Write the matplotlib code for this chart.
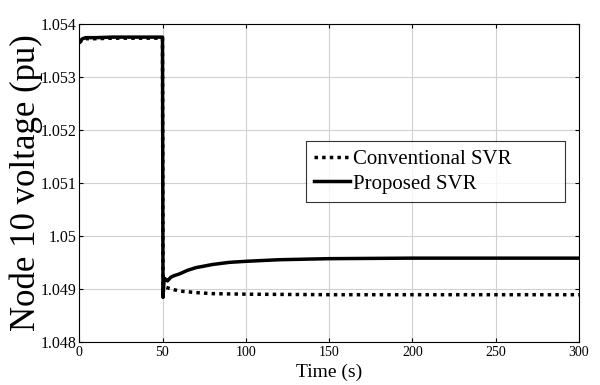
import numpy as np
import matplotlib
matplotlib.use('Agg')
import matplotlib.pyplot as plt

plt.rcParams['font.family'] = ['Liberation Serif', 'DejaVu Serif']

# Conventional SVR
t_conv = [0, 2, 4, 6, 10, 20, 30, 40, 49.6, 50, 50.3, 52, 55, 60, 70, 80, 100, 150, 200, 250, 300]
v_conv = [1.05364, 1.05370, 1.05372, 1.05372, 1.05372, 1.05373, 1.05373, 1.05373, 1.05373, 1.05373,
          1.04895, 1.04903, 1.04900, 1.04896, 1.04893, 1.04891, 1.04890, 1.04889, 1.04889, 1.04889, 1.04889]

# Proposed SVR
t_prop = [0, 2, 4, 6, 10, 20, 30, 40, 49.6, 50, 50.3, 51, 52, 53, 55, 57, 60, 65, 70, 80, 90, 100,
          120, 150, 200, 250, 300]
v_prop = [1.05366, 1.05372, 1.05374, 1.05374, 1.05374, 1.05375, 1.05375, 1.05375, 1.05375, 1.05375,
          1.04884, 1.04920, 1.04918, 1.04915, 1.04922, 1.04925, 1.04928, 1.04935, 1.04940, 1.04946,
          1.04950, 1.04952, 1.04955, 1.04957, 1.04958, 1.04958, 1.04958]

fig = plt.figure(figsize=(6, 3.85), dpi=100)
ax = fig.add_axes([0.132, 0.112, 0.833, 0.826])

ax.plot(t_conv, v_conv, color='black', lw=2.5, linestyle=(0, (1, 1.2)), label='Conventional SVR')
ax.plot(t_prop, v_prop, color='black', lw=2.5, label='Proposed SVR')

ax.set_xlim(0, 300)
ax.set_ylim(1.048, 1.054)
ax.set_xticks(np.arange(0, 301, 50))
ax.set_yticks([1.048, 1.049, 1.05, 1.051, 1.052, 1.053, 1.054])
ax.set_yticklabels(['1.048', '1.049', '1.05', '1.051', '1.052', '1.053', '1.054'])
ax.tick_params(direction='in', top=True, right=True, length=3)
ax.tick_params(axis='x', labelsize=10, pad=3)
ax.tick_params(axis='y', labelsize=11.5, pad=2)
ax.grid(True, color='#d0d0d0', lw=0.8)
for s in ax.spines.values():
    s.set_linewidth(0.8)

ax.set_xlabel('Time (s)', fontsize=14, labelpad=3)
ax.set_ylabel('Node 10 voltage (pu)', fontsize=25, labelpad=-2)

leg = ax.legend(loc='upper left', bbox_to_anchor=(0.454, 0.432, 0.518, 0.2), mode='expand',
                fontsize=15, frameon=True, fancybox=False, edgecolor='black',
                handlelength=1.7, handletextpad=0.15, borderpad=0.4, labelspacing=0.25,
                borderaxespad=0)
leg.get_frame().set_linewidth(0.8)

fig.savefig('out.png', dpi=100)
